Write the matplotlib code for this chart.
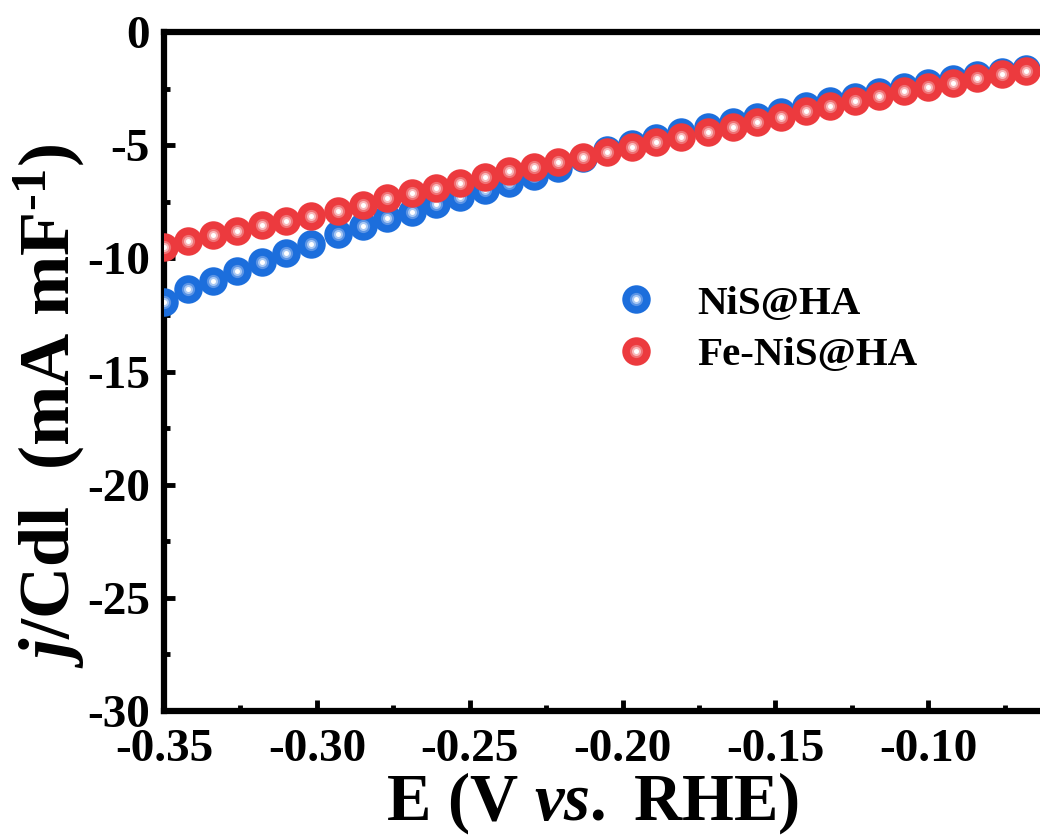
import matplotlib
matplotlib.use("Agg")
import matplotlib.pyplot as plt
from matplotlib.lines import Line2D
from matplotlib.legend_handler import HandlerTuple

# ---- data ----
potential = [-0.350, -0.342, -0.334, -0.326, -0.318, -0.310, -0.302, -0.293,
             -0.285, -0.277, -0.269, -0.261, -0.253, -0.245, -0.237, -0.229,
             -0.221, -0.213, -0.205, -0.197, -0.189, -0.181, -0.172, -0.164,
             -0.156, -0.148, -0.140, -0.132, -0.124, -0.116, -0.108, -0.100,
             -0.092, -0.084, -0.076, -0.068]
nis_ha = [-11.93, -11.36, -11.00, -10.56, -10.16, -9.77, -9.37, -8.93,
          -8.57, -8.22, -7.95, -7.60, -7.29, -6.98, -6.67, -6.36,
          -6.01, -5.57, -5.21, -4.95, -4.68, -4.42, -4.20, -3.98,
          -3.76, -3.54, -3.27, -3.05, -2.87, -2.65, -2.43, -2.25,
          -2.08, -1.90, -1.77, -1.63]
fe_nis_ha = [-9.50, -9.24, -8.97, -8.79, -8.53, -8.35, -8.13, -7.91,
             -7.64, -7.34, -7.11, -6.89, -6.67, -6.41, -6.14, -5.97,
             -5.75, -5.52, -5.30, -5.08, -4.86, -4.64, -4.42, -4.20,
             -3.98, -3.76, -3.49, -3.27, -3.05, -2.83, -2.61, -2.43,
             -2.25, -2.03, -1.86, -1.72]
labels = ["NiS@HA", "Fe-NiS@HA"]
xticks = [-0.35, -0.30, -0.25, -0.20, -0.15, -0.10]
xticklabels = ["-0.35", "-0.30", "-0.25", "-0.20", "-0.15", "-0.10"]
yticks = [0, -5, -10, -15, -20, -25, -30]
yticklabels = ["0", "-5", "-10", "-15", "-20", "-25", "-30"]

plt.rcParams['font.family'] = ['Liberation Serif', 'DejaVu Serif']
plt.rcParams['font.weight'] = 'bold'
plt.rcParams['axes.unicode_minus'] = False
plt.rcParams['mathtext.fontset'] = 'custom'
plt.rcParams['mathtext.rm'] = 'Liberation Serif:bold'
plt.rcParams['mathtext.bf'] = 'Liberation Serif:bold'
plt.rcParams['mathtext.it'] = 'Liberation Serif:bold:italic'

fig = plt.figure(figsize=(10.4, 8.36), dpi=100)
ax = fig.add_axes([164/1040, 1 - 711/836, 917/1040, (711-32)/836])

styles = [
    dict(base="#1C6EDC", mid="#5C95E6", ring="#A9C8F3"),
    dict(base="#EC3A3E", mid="#F07275", ring="#F8B8BA"),
]
sizes = [20.5, 9.5, 6.5, 3.6]
series = [nis_ha, fe_nis_ha]
handles = []
for vals, st, lab in zip(series, styles, labels):
    cols = [st["base"], st["mid"], st["ring"], "#FFFFFF"]
    hs = []
    for ms, c in zip(sizes, cols):
        ax.plot(potential, vals, 'o', ms=ms, mfc=c, mec='none', zorder=3)
        hs.append(Line2D([], [], ls='none', marker='o', ms=ms, mfc=c, mec='none'))
    handles.append(tuple(hs))

ax.set_xlim(-0.35, -0.05)
ax.set_ylim(-30, 0)
ax.set_xticks(xticks)
ax.set_xticklabels(xticklabels)
ax.set_xticks([-0.325, -0.275, -0.225, -0.175, -0.125, -0.075], minor=True)
ax.set_yticks(yticks)
ax.set_yticklabels(yticklabels)
ax.set_yticks([-2.5, -7.5, -12.5, -17.5, -22.5, -27.5], minor=True)

for s in ax.spines.values():
    s.set_linewidth(4.5)
ax.tick_params(which='major', direction='in', length=8, width=3.5, labelsize=34)
ax.tick_params(axis='x', which='major', pad=13)
ax.tick_params(axis='y', which='major', pad=10)
ax.tick_params(which='minor', direction='in', length=4, width=3.5)
for t in ax.get_xticklabels() + ax.get_yticklabels():
    t.set_fontweight('bold')

ax.set_xlabel(r"E (V $\mathit{vs.}$ RHE)", fontsize=48, fontweight='bold')
ax.xaxis.set_label_coords((592-164)/917, -(770-711)/679)
ax.set_ylabel(r"$\mathit{j}$/Cdl  (mA mF$^{\text{-1}}$)", fontsize=52, fontweight='bold')
ax.yaxis.set_label_coords(-(164-86)/917, 0.5 - (406-371.5)/679)

leg = ax.legend(handles, labels, handler_map={tuple: HandlerTuple(ndivide=1, pad=0)},
                loc='center left', bbox_to_anchor=(615.5/1040, 1 - 329.5/836),
                bbox_transform=fig.transFigure, frameon=False,
                prop={'family': 'Liberation Serif', 'weight': 'bold', 'size': 29.5},
                handlelength=1.0, handletextpad=1.0, labelspacing=0.34,
                borderpad=0, borderaxespad=0)

fig.savefig("out.png", dpi=100)
